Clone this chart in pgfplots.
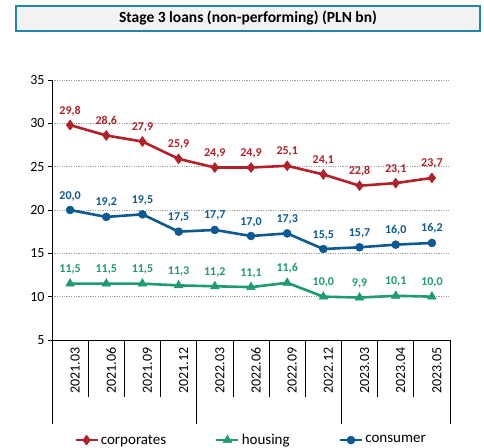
\documentclass[border=0pt]{standalone}
\usepackage{fontspec}
\setmainfont{Carlito}
\usepackage{pgfplots}
\pgfplotsset{compat=1.18}
\definecolor{corp}{HTML}{B22028}
\definecolor{hous}{HTML}{1E9A74}
\definecolor{cons}{HTML}{0D5A92}
\definecolor{tborder}{HTML}{1F86B0}
\begin{document}
\begin{tikzpicture}[x=1pt,y=1pt]
\path[use as bounding box] (0,0) rectangle (484,447);
\draw[tborder, line width=1.3pt, fill=black!5] (16,416) rectangle (480,441);
\draw[tborder, line width=2.4pt] (16,415.4)--(16,441.6);
\draw[tborder, line width=2.4pt] (480,415.4)--(480,441.6);
\node[font=\fontsize{15.5}{18}\selectfont\bfseries] at (248,428.5) {Stage 3 loans (non-performing) (PLN bn)};
\begin{axis}[
  at={(52pt,107pt)}, anchor=south west, scale only axis,
  width=398pt, height=260pt,
  xmin=-0.5, xmax=10.5, ymin=5, ymax=35,
  ytick={5,10,...,35},
  xtick={0,...,10},
  xticklabels={2021.03,2021.06,2021.09,2021.12,2022.03,2022.06,2022.09,2022.12,2023.03,2023.04,2023.05},
  axis x line*=bottom, axis y line*=left,
  axis line style={-, black, line width=0.8pt},
  x tick style={draw=none},
  y tick style={black, line width=0.8pt},
  tick align=outside, major tick length=4pt,
  xticklabel style={rotate=90, anchor=east, font=\fontsize{14}{16}\selectfont, yshift=-5pt},
  yticklabel style={font=\fontsize{14}{16}\selectfont},
  /pgf/number format/assume math mode=true,
  ymajorgrids,
  grid style={gray!75, line width=0.6pt, dash pattern=on 1.2pt off 1.2pt},
  clip=false,
  every node near coord/.append style={font=\fontsize{12}{14}\selectfont\bfseries, anchor=base, inner sep=0pt, yshift=11pt},
  nodes near coords={\pgfmathprintnumber[fixed,fixed zerofill,precision=1,use comma,assume math mode=true]{\pgfplotspointmeta}},
  legend style={at={(0.5,-0.385)}, anchor=center, draw=none, fill=none, legend columns=3,
    font=\fontsize{15}{17}\selectfont, /tikz/every even column/.append style={column sep=47pt},
    inner sep=0pt},
  legend cell align=left,
  legend image code/.code={\draw[mark repeat=2,mark phase=2,#1] plot coordinates {(0pt,0pt) (11pt,0pt) (22pt,0pt)};},
]
\addplot[corp, line width=2.6pt, mark=diamond*, mark size=5pt, mark options={solid, line width=0.5pt}, every node near coord/.append style={text=corp}]
 coordinates {(0,29.8) (1,28.6) (2,27.9) (3,25.9) (4,24.9) (5,24.9) (6,25.1) (7,24.1) (8,22.8) (9,23.1) (10,23.7)};
\addlegendentry{corporates}
\addplot[hous, line width=2.6pt, mark=triangle*, mark size=5pt, mark options={solid, line width=0.5pt}, every node near coord/.append style={text=hous}]
 coordinates {(0,11.5) (1,11.5) (2,11.5) (3,11.3) (4,11.2) (5,11.1) (6,11.6) (7,10.0) (8,9.9) (9,10.1) (10,10.0)};
\addlegendentry{housing}
\addplot[cons, line width=2.6pt, mark=*, mark size=4pt, mark options={solid, line width=0.5pt}, every node near coord/.append style={text=cons}]
 coordinates {(0,20.0) (1,19.2) (2,19.5) (3,17.5) (4,17.7) (5,17.0) (6,17.3) (7,15.5) (8,15.7) (9,16.0) (10,16.2)};
\addlegendentry{consumer}
\pgfplotsinvokeforeach{0.5,1.5,2.5,4.5,5.5,6.5,8.5,9.5}{\draw[black, line width=0.8pt] (axis cs:#1,5) -- ++(0pt,-57pt);}
\pgfplotsinvokeforeach{-0.5,3.5,7.5,10.5}{\draw[black, line width=0.8pt] (axis cs:#1,5) -- ++(0pt,-84pt);}
\end{axis}
\end{tikzpicture}
\end{document}
